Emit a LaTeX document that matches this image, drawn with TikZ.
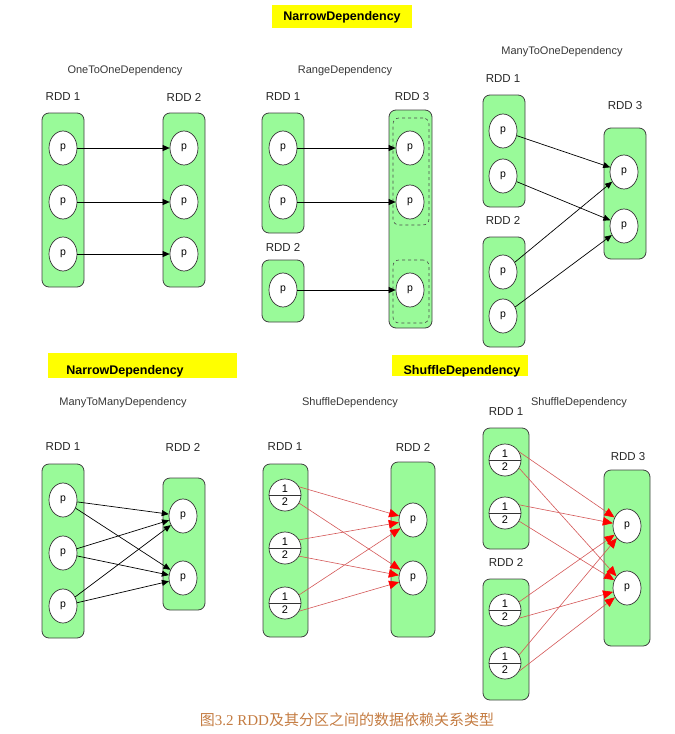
\documentclass[tikz,border=0pt]{standalone}
\usepackage{fontspec}
\setmainfont{Liberation Serif}
\setsansfont{Liberation Sans}
\newfontfamily\cjk{Noto Sans CJK SC}
\usetikzlibrary{arrows.meta,shapes.geometric,shapes.multipart}
\definecolor{rddgreen}{RGB}{153,250,153}
\definecolor{marker}{RGB}{255,255,0}
\definecolor{shufflered}{RGB}{212,88,88}
\definecolor{captionbrown}{RGB}{196,124,66}
\definecolor{titlegray}{RGB}{55,55,55}

\begin{document}
\begin{tikzpicture}[x=1pt, y=-1pt, font=\sffamily,
    rddbox/.style={draw=black!75, fill=rddgreen, line width=0.8pt, rounded corners=7pt, inner sep=0pt},
    pnode/.style={ellipse, draw=black!80, fill=white, line width=0.7pt, minimum width=28pt, minimum height=34pt, inner sep=0pt, font=\sffamily\fontsize{10.5}{12}\selectfont},
    splitnode/.style={circle split, draw=black!80, fill=white, line width=0.7pt, minimum size=32pt, inner sep=2.6pt, font=\sffamily\fontsize{11}{12}\selectfont},
    innerbox/.style={draw=black!70, dashed, rounded corners=6pt, line width=0.6pt, inner sep=0pt},
    rddlabel/.style={font=\sffamily\fontsize{11.5}{13}\selectfont, text=black!85},
    deptitle/.style={font=\sffamily\fontsize{11}{13}\selectfont, text=titlegray},
    kindtitle/.style={font=\sffamily\bfseries\fontsize{12.5}{14}\selectfont},
    narrow/.style={-{Triangle[length=7pt, width=6pt]}, line width=0.7pt},
    shuffle/.style={draw=shufflered, line width=0.6pt, -{Triangle[length=10pt, width=8.5pt, color=red]}}]
    \useasboundingbox (0,0) rectangle (675,734);

    % Highlighted headings
    \fill[marker] (272,5) rectangle (412,28);
    \node[kindtitle] (narrowtop) at (342,17) {NarrowDependency};
    \fill[marker] (48,353) rectangle (237,378);
    \node[kindtitle] (narrowbot) at (125,371) {NarrowDependency};
    \fill[marker] (392,355) rectangle (528,376);
    \node[kindtitle] (shufflebot) at (462,371) {ShuffleDependency};

    % OneToOneDependency
    \node[deptitle] (onetitle) at (125,71) {OneToOneDependency};
    \node[rddlabel] (oneAl) at (63,97) {RDD 1};
    \node[rddlabel] (oneBl) at (184,97) {RDD 2};
    \node[rddbox, minimum width=42pt, minimum height=174pt] (oneA) at (63,200) {};
    \node[rddbox, minimum width=42pt, minimum height=174pt] (oneB) at (184,200) {};
    \node[pnode] (oneA1) at (63,148) {p};
    \node[pnode] (oneA2) at (63,202) {p};
    \node[pnode] (oneA3) at (63,254) {p};
    \node[pnode] (oneB1) at (184,148) {p};
    \node[pnode] (oneB2) at (184,202) {p};
    \node[pnode] (oneB3) at (184,254) {p};
    \draw[narrow] (oneA1) -- (oneB1);
    \draw[narrow] (oneA2) -- (oneB2);
    \draw[narrow] (oneA3) -- (oneB3);

    % RangeDependency
    \node[deptitle] (rangetitle) at (345,71) {RangeDependency};
    \node[rddlabel] (rangeAl) at (283,97) {RDD 1};
    \node[rddlabel] (rangeBl) at (283,247) {RDD 2};
    \node[rddlabel] (rangeCl) at (412,97) {RDD 3};
    \node[rddbox, minimum width=42pt, minimum height=120pt] (rangeA) at (283,173) {};
    \node[rddbox, minimum width=42pt, minimum height=62pt] (rangeB) at (283,291) {};
    \node[rddbox, minimum width=43pt, minimum height=218pt] (rangeC) at (410.5,219) {};
    \node[innerbox, minimum width=36pt, minimum height=107pt] (rangeCu) at (411,171.5) {};
    \node[innerbox, minimum width=36pt, minimum height=63pt] (rangeCd) at (411,291.5) {};
    \node[pnode] (rangeA1) at (283,148) {p};
    \node[pnode] (rangeA2) at (283,202) {p};
    \node[pnode] (rangeB1) at (283,290) {p};
    \node[pnode] (rangeC1) at (410,148) {p};
    \node[pnode] (rangeC2) at (410,202) {p};
    \node[pnode] (rangeC3) at (410,290) {p};
    \draw[narrow] (rangeA1) -- (rangeC1);
    \draw[narrow] (rangeA2) -- (rangeC2);
    \draw[narrow] (rangeB1) -- (rangeC3);

    % ManyToOneDependency
    \node[deptitle] (m1title) at (562,52) {ManyToOneDependency};
    \node[rddlabel] (m1Al) at (503,79) {RDD 1};
    \node[rddlabel] (m1Bl) at (503,220) {RDD 2};
    \node[rddlabel] (m1Cl) at (625,106) {RDD 3};
    \node[rddbox, minimum width=42pt, minimum height=112pt] (m1A) at (504,151) {};
    \node[rddbox, minimum width=42pt, minimum height=110pt] (m1B) at (504,292) {};
    \node[rddbox, minimum width=42pt, minimum height=131pt] (m1C) at (625,193.5) {};
    \node[pnode] (m1A1) at (503,131) {p};
    \node[pnode] (m1A2) at (503,176) {p};
    \node[pnode] (m1B1) at (503,272) {p};
    \node[pnode] (m1B2) at (503,316) {p};
    \node[pnode] (m1C1) at (624,172) {p};
    \node[pnode] (m1C2) at (624,226) {p};
    \draw[narrow] (m1A1) -- (m1C1);
    \draw[narrow] (m1A2) -- (m1C2);
    \draw[narrow] (m1B1) -- (m1C1);
    \draw[narrow] (m1B2) -- (m1C2);

    % ManyToManyDependency
    \node[deptitle] (mmtitle) at (123,403) {ManyToManyDependency};
    \node[rddlabel] (mmAl) at (63,447) {RDD 1};
    \node[rddlabel] (mmBl) at (183,447) {RDD 2};
    \node[rddbox, minimum width=42pt, minimum height=174pt] (mmA) at (63,551) {};
    \node[rddbox, minimum width=42pt, minimum height=132pt] (mmB) at (184,544) {};
    \node[pnode] (mmA1) at (63,500) {p};
    \node[pnode] (mmA2) at (63,553) {p};
    \node[pnode] (mmA3) at (63,606) {p};
    \node[pnode] (mmB1) at (183,516) {p};
    \node[pnode] (mmB2) at (183,578) {p};
    \foreach \i in {1,2,3} {
        \draw[narrow] (mmA\i) -- (mmB1);
        \draw[narrow] (mmA\i) -- (mmB2);
    }

    % ShuffleDependency, two RDDs
    \node[deptitle] (s1title) at (350,403) {ShuffleDependency};
    \node[rddlabel] (s1Al) at (285,447) {RDD 1};
    \node[rddlabel] (s1Bl) at (413,447) {RDD 2};
    \node[rddbox, minimum width=45pt, minimum height=173pt] (s1A) at (285.5,550.5) {};
    \node[rddbox, minimum width=44pt, minimum height=175pt] (s1B) at (413,549.5) {};
    \node[splitnode] (s1A1) at (285,495) {1 \nodepart{lower} 2};
    \node[splitnode] (s1A2) at (285,548) {1 \nodepart{lower} 2};
    \node[splitnode] (s1A3) at (285,603) {1 \nodepart{lower} 2};
    \node[pnode] (s1B1) at (413,520) {p};
    \node[pnode] (s1B2) at (413,578) {p};
    \foreach \i in {1,2,3} {
        \draw[shuffle] (s1A\i.30) -- (s1B1);
        \draw[shuffle] (s1A\i.-30) -- (s1B2);
    }

    % ShuffleDependency, three RDDs
    \node[deptitle] (s2title) at (579,403) {ShuffleDependency};
    \node[rddlabel] (s2Al) at (506,412) {RDD 1};
    \node[rddlabel] (s2Bl) at (506,562) {RDD 2};
    \node[rddlabel] (s2Cl) at (628,457) {RDD 3};
    \node[rddbox, minimum width=46pt, minimum height=121pt] (s2A) at (506,488.5) {};
    \node[rddbox, minimum width=46pt, minimum height=121pt] (s2B) at (506,639.5) {};
    \node[rddbox, minimum width=46pt, minimum height=176pt] (s2C) at (627,558) {};
    \node[splitnode] (s2A1) at (505,460) {1 \nodepart{lower} 2};
    \node[splitnode] (s2A2) at (505,513) {1 \nodepart{lower} 2};
    \node[splitnode] (s2B1) at (505,610) {1 \nodepart{lower} 2};
    \node[splitnode] (s2B2) at (505,663) {1 \nodepart{lower} 2};
    \node[pnode] (s2C1) at (627,526) {p};
    \node[pnode] (s2C2) at (627,588) {p};
    \foreach \i in {A1,A2,B1,B2} {
        \draw[shuffle] (s2\i.30) -- (s2C1);
        \draw[shuffle] (s2\i.-30) -- (s2C2);
    }

    % Caption
    \node[text=captionbrown, font=\fontsize{15}{17}\selectfont] (caption) at (347,720)
        {{\cjk 图}3.2 RDD{\cjk 及其分区之间的数据依赖关系类型}};
\end{tikzpicture}
\end{document}
